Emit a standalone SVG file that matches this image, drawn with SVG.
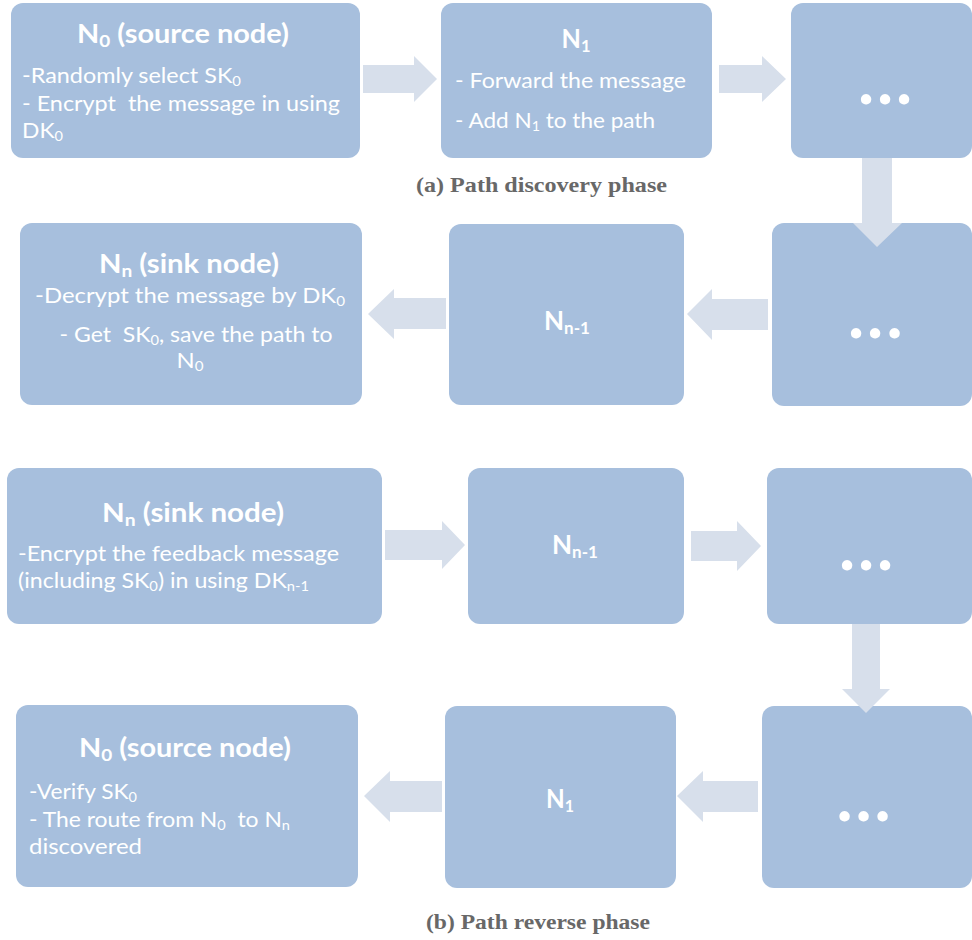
<svg xmlns="http://www.w3.org/2000/svg" width="972" height="940" viewBox="0 0 972 940">
<style>
.box{fill:#A7BFDD;}
.arr{fill:#D7DFEB;}
.t{font-family:Lato,"Liberation Sans",sans-serif;fill:#fff;}
.h{font-size:26px;font-weight:700;text-anchor:middle;}
.b{font-size:22px;}
.c{text-anchor:middle;}
.pre{white-space:pre;}
.dots{font-family:Lato,"Liberation Sans",sans-serif;font-weight:700;font-size:68px;fill:#fff;text-anchor:middle;}
.cap{font-family:"Liberation Serif","Times New Roman",serif;font-weight:700;font-size:21px;fill:#686868;text-anchor:middle;}
</style>
<rect width="972" height="940" fill="#fff"/>
<g id="n0-source-a">
<rect class="box" x="11" y="3" width="349" height="155" rx="12"/>
<text class="t h" x="183" y="43" textLength="212" lengthAdjust="spacingAndGlyphs">N<tspan dy="4" font-size="17">0</tspan><tspan dy="-4"> (source node)</tspan></text>
<text class="t b" x="22" y="83" textLength="219" lengthAdjust="spacingAndGlyphs">-Randomly select SK<tspan dy="2.5" font-size="14">0</tspan></text>
<text class="t b pre" x="22" y="111" textLength="318" lengthAdjust="spacingAndGlyphs">- Encrypt  the message in using</text>
<text class="t b" x="22" y="138" textLength="41" lengthAdjust="spacingAndGlyphs">DK<tspan dy="3" font-size="14">0</tspan></text>
</g>
<g id="n1-a">
<rect class="box" x="441" y="3" width="271" height="155" rx="12"/>
<text class="t h" x="576" y="48" textLength="29" lengthAdjust="spacingAndGlyphs">N<tspan dy="4" font-size="17">1</tspan></text>
<text class="t b" x="455" y="88" textLength="231" lengthAdjust="spacingAndGlyphs">- Forward the message</text>
<text class="t b" x="455" y="128" textLength="200" lengthAdjust="spacingAndGlyphs">- Add N<tspan dy="3" font-size="14">1</tspan><tspan dy="-3"> to the path</tspan></text>
</g>
<g id="dots-a1">
<rect class="box" x="791" y="3" width="181" height="155" rx="12"/>
<text class="dots" y="104"><tspan x="866">.</tspan><tspan x="885">.</tspan><tspan x="904">.</tspan></text>
</g>
<g id="dots-a2">
<rect class="box" x="772" y="223" width="200" height="183" rx="12"/>
<text class="dots" y="338"><tspan x="856">.</tspan><tspan x="875">.</tspan><tspan x="894.5">.</tspan></text>
</g>
<g id="nn1-a">
<rect class="box" x="449" y="224" width="235" height="181" rx="12"/>
<text class="t h" x="567" y="330" textLength="46" lengthAdjust="spacingAndGlyphs">N<tspan dy="4" font-size="17">n-1</tspan></text>
</g>
<g id="nn-sink-a">
<rect class="box" x="20" y="223" width="342" height="182" rx="12"/>
<text class="t h" x="189" y="273" textLength="180" lengthAdjust="spacingAndGlyphs">N<tspan dy="4" font-size="17">n</tspan><tspan dy="-4"> (sink node)</tspan></text>
<text class="t b c" x="190" y="303" textLength="310" lengthAdjust="spacingAndGlyphs">-Decrypt the message by DK<tspan dy="3" font-size="14">0</tspan></text>
<text class="t b c pre" x="196" y="342" textLength="273" lengthAdjust="spacingAndGlyphs">- Get  SK<tspan dy="3" font-size="14">0</tspan><tspan dy="-3">, save the path to</tspan></text>
<text class="t b c" x="190" y="368" textLength="27" lengthAdjust="spacingAndGlyphs">N<tspan dy="3" font-size="14">0</tspan></text>
</g>
<g id="nn-sink-b">
<rect class="box" x="7" y="468" width="375" height="156" rx="12"/>
<text class="t h" x="193" y="522" textLength="182" lengthAdjust="spacingAndGlyphs">N<tspan dy="4" font-size="17">n</tspan><tspan dy="-4"> (sink node)</tspan></text>
<text class="t b" x="18" y="561" textLength="321" lengthAdjust="spacingAndGlyphs">-Encrypt the feedback message</text>
<text class="t b" x="18" y="588" textLength="291" lengthAdjust="spacingAndGlyphs">(including SK<tspan dy="3" font-size="14">0</tspan><tspan dy="-3">) in using DK</tspan><tspan dy="3" font-size="14">n-1</tspan></text>
</g>
<g id="nn1-b">
<rect class="box" x="468" y="468" width="216" height="156" rx="12"/>
<text class="t h" x="575" y="554" textLength="46" lengthAdjust="spacingAndGlyphs">N<tspan dy="4" font-size="17">n-1</tspan></text>
</g>
<g id="dots-b1">
<rect class="box" x="767" y="468" width="205" height="156" rx="12"/>
<text class="dots" y="570"><tspan x="847">.</tspan><tspan x="866">.</tspan><tspan x="885">.</tspan></text>
</g>
<g id="dots-b2">
<rect class="box" x="762" y="706" width="210" height="182" rx="12"/>
<text class="dots" y="821"><tspan x="844.5">.</tspan><tspan x="863.5">.</tspan><tspan x="882.5">.</tspan></text>
</g>
<g id="n1-b">
<rect class="box" x="445" y="706" width="231" height="182" rx="12"/>
<text class="t h" x="560" y="808" textLength="28" lengthAdjust="spacingAndGlyphs">N<tspan dy="4" font-size="17">1</tspan></text>
</g>
<g id="n0-source-b">
<rect class="box" x="16" y="705" width="342" height="182" rx="12"/>
<text class="t h" x="185" y="757" textLength="212" lengthAdjust="spacingAndGlyphs">N<tspan dy="4" font-size="17">0</tspan><tspan dy="-4"> (source node)</tspan></text>
<text class="t b" x="29" y="799" textLength="108" lengthAdjust="spacingAndGlyphs">-Verify SK<tspan dy="2.5" font-size="14">0</tspan></text>
<text class="t b pre" x="29" y="827" textLength="261" lengthAdjust="spacingAndGlyphs">- The route from N<tspan dy="3" font-size="14">0</tspan><tspan dy="-3">  to N</tspan><tspan dy="3" font-size="14">n</tspan></text>
<text class="t b" x="29" y="854" textLength="113" lengthAdjust="spacingAndGlyphs">discovered</text>
</g>
<g id="connectors">
<polygon class="arr" points="363,65 414,65 414,56 437,79 414,102 414,93 363,93"/>
<polygon class="arr" points="719,65 762,65 762,56 786,79 762,102 762,93 719,93"/>
<polygon class="arr" points="862,158 892,158 892,223 902,223 877,247 853,223 862,223"/>
<polygon class="arr" points="768,299 712,299 712,289 687,314 712,340 712,330 768,330"/>
<polygon class="arr" points="446,298 394,298 394,289 368,314 394,339 394,329 446,329"/>
<polygon class="arr" points="385,530 442,530 442,521 465,545 442,569 442,560 385,560"/>
<polygon class="arr" points="691,531 737,531 737,521 761,546 737,571 737,561 691,561"/>
<polygon class="arr" points="852,624 880,624 880,689 890,689 866,713 842,689 852,689"/>
<polygon class="arr" points="758,781 703,781 703,771 677,796 703,822 703,812 758,812"/>
<polygon class="arr" points="442,781 390,781 390,771 364,796 390,822 390,812 442,812"/>
</g>
<text class="cap" x="541.5" y="192" textLength="251" lengthAdjust="spacingAndGlyphs">(a) Path discovery phase</text>
<text class="cap" x="538" y="929" textLength="224" lengthAdjust="spacingAndGlyphs">(b) Path reverse phase</text>
</svg>
